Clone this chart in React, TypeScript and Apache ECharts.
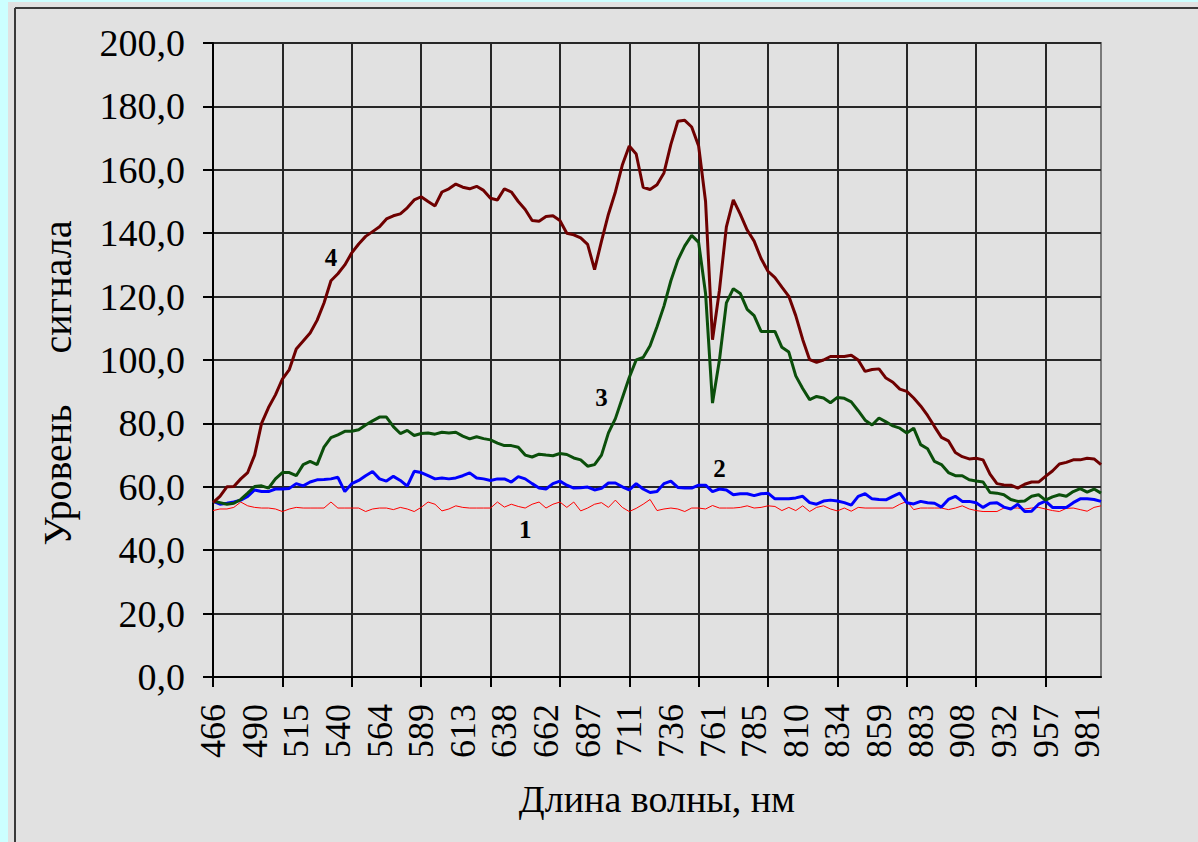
import React, { useEffect, useRef } from "react";
import * as echarts from "echarts";

// Tick labels of the wavelength axis (nm), one every 6 points
const tickLabels = [466, 490, 515, 540, 564, 589, 613, 638, 662, 687, 711, 736, 761, 785, 810, 834, 859, 883, 908, 932, 957, 981];

// Series 1 (red, thin)
const series1 = [
  52.5, 53, 53, 53.5, 55.2, 54, 53.5, 53.3, 53.3, 53, 52.2, 53, 53.5, 53.3, 53.3, 53.3, 53.3, 55.2, 53.3, 53.3,
  53.3, 53.3, 52.2, 53, 53.3, 53.3, 52.8, 53.5, 53, 52.2, 53.5, 55.2, 54.5, 52.4, 53, 54, 53.5, 53.3, 53.3, 53.3,
  53.3, 55.2, 53.6, 54.5, 53.8, 53.3, 54.5, 55.2, 53.3, 54.5, 55.2, 53.5, 55.2, 52.4, 53.3, 54.5, 55, 53.5, 55.8, 53.5,
  52.2, 53.2, 54.5, 56, 52.5, 53, 53.3, 53, 52.2, 53.3, 53.3, 53, 54.1, 53.3, 53.3, 53.3, 53.5, 54, 53.3, 53.5,
  54, 53.8, 52.5, 53.5, 52.5, 54, 52.2, 53.5, 54, 53, 52.4, 53.3, 52.3, 53.5, 53.3, 53.3, 53.3, 53.3, 53.3, 54.5,
  55.4, 52.8, 53.3, 53.3, 53.3, 53.3, 52.8, 53.3, 54, 53, 52.5, 52.2, 52.2, 52.2, 53.3, 53.3, 53.3, 53, 53.3, 53.5,
  53, 52.5, 52.2, 53.2, 53.3, 52.8, 52.3, 53.5, 54,
];

// Series 2 (blue)
const series2 = [
  55.5, 54.5, 54.8, 55.2, 55.8, 57, 59, 58.5, 58.5, 59.3, 59.3, 59.5, 61, 60.3, 61.5, 62.2, 62.3, 62.5, 63, 58.5,
  61, 62, 63.5, 64.8, 62.5, 61.8, 63.3, 62, 60.2, 64.9, 64.5, 63.5, 62.5, 62.8, 62.5, 62.8, 63.5, 64.4, 62.8, 62.5,
  62, 62.5, 62.5, 61.5, 63.2, 62.5, 61, 59.6, 59.3, 61, 61.8, 60.5, 59.6, 59.7, 59.9, 59, 59.5, 61.2, 61.2, 60,
  59, 61, 59.3, 58.2, 58.5, 61, 61.8, 59.8, 59.6, 59.6, 60.5, 60.5, 58.5, 59.3, 59, 57.5, 57.8, 57.8, 57.2, 57.8,
  58, 56.2, 56.2, 56.2, 56.5, 57, 55, 54.5, 55.5, 55.8, 55.5, 55, 54.2, 57, 57.8, 56.2, 56, 55.9, 57, 58,
  55, 54.6, 55.4, 55, 54.8, 53.6, 56, 57, 55.4, 55.4, 55, 53.5, 54.8, 55, 53.6, 53, 54.5, 52.2, 52.3, 54.5,
  55.5, 53.5, 53.5, 53.5, 55, 56.2, 56.2, 56, 55.4,
];

// Series 3 (green)
const series3 = [
  55.5, 55, 54.5, 54.8, 56, 58, 60.1, 60.3, 59.6, 62.5, 64.5, 64.5, 63.5, 67, 68, 67, 72.5, 75.5, 76.4, 77.5,
  77.5, 78, 79.5, 80.8, 82, 82, 79, 76.8, 77.8, 76.2, 76.8, 77, 76.6, 77.2, 77, 77.2, 76, 75.1, 75.8, 75.2,
  74.8, 73.8, 73, 73, 72.5, 70, 69.4, 70.3, 70, 69.8, 70.5, 70.2, 69.1, 68.5, 66.5, 67, 70, 77, 81.5, 88,
  94.5, 100, 100.8, 104.5, 110.5, 117, 125, 131.5, 136, 139.3, 137.1, 121, 86.4, 100, 118, 122.5, 121, 116, 114, 109,
  109, 109, 104, 102.5, 95, 91, 87.5, 88.5, 88, 86.5, 88.2, 87.9, 86.8, 84, 81, 79.5, 81.7, 80.5, 79.2, 78.5,
  77, 78.5, 73.3, 72, 68, 67, 64.5, 63.5, 63.5, 62.2, 61.8, 61.5, 58.2, 58, 57.5, 56, 55.4, 55.5, 57, 57.5,
  55.8, 56.8, 57.5, 57, 58.5, 59.4, 58.3, 59.3, 58,
];

// Series 4 (dark red)
const series4 = [
  55, 57, 60, 60.1, 62.5, 64.5, 70, 80, 85, 89, 94, 97, 103.5, 106, 108.5, 112.5, 118, 125, 127.2, 130,
  133.8, 136.6, 139, 140.5, 142, 144.5, 145.5, 146.1, 148, 150.5, 151.5, 150, 148.6, 153, 154, 155.5, 154.5, 154, 154.8, 153.5,
  151, 150.5, 154, 153, 150, 147.5, 144, 143.8, 145.3, 145.5, 144, 140, 139.5, 138.5, 136.5, 128.5, 137.5, 146, 153, 161.5,
  167.5, 165, 154.5, 153.8, 155.3, 159, 168, 175.3, 175.6, 173.5, 167.5, 150, 106.4, 122, 142, 150.5, 146, 141, 137.5, 132,
  128, 126, 123, 120.1, 114, 106.5, 100.1, 99.3, 100, 101.1, 101.1, 101.1, 101.5, 100, 96.4, 97, 97.2, 94.3, 93, 90.8,
  90.1, 88, 85.5, 82.5, 79, 75.6, 74.5, 70.8, 69.5, 68.8, 69, 68.5, 64, 61, 60.6, 60.5, 59.6, 60.8, 61.5, 61.5,
  63.3, 65, 67.2, 67.7, 68.5, 68.5, 69, 68.8, 67,
];

// Curve numbers: [name, category index, value]
const curveTags: [string, number, number][] = [
  ["1", 45, 46.5],
  ["2", 73, 65.7],
  ["3", 56, 88.1],
  ["4", 17, 132.3],
];

const LABEL_STEP = 6;
const GRID_STEP = 10;
const FONT = "'Liberation Serif', 'Times New Roman', serif";

export default function App() {
  const ref = useRef<HTMLDivElement>(null);

  useEffect(() => {
    if (!ref.current) return;
    const chart = echarts.init(ref.current, undefined, { renderer: "svg" });
    const categories = series1.map((_, i) => String(i));

    const tag = (n: string) => {
      const t = curveTags.find((c) => c[0] === n)!;
      return {
        symbol: "rect",
        symbolSize: 1,
        silent: true,
        itemStyle: { color: "rgba(0,0,0,0)" },
        label: {
          show: true,
          position: "inside",
          formatter: t[0],
          fontFamily: FONT,
          fontWeight: "bold",
          fontSize: 25,
          color: "#000",
        },
        data: [{ coord: [t[1], t[2]] }],
      };
    };

    const mk = (name: string, data: number[], color: string, width: number) => ({
      name,
      type: "line",
      data,
      symbol: "none",
      smooth: false,
      lineStyle: { color, width },
      itemStyle: { color },
      markPoint: tag(name),
      z: 3,
    });

    chart.setOption({
      animation: false,
      backgroundColor: "#e1e1e1",
      textStyle: { fontFamily: FONT },
      grid: {
        left: 213,
        top: 43,
        right: 97,
        bottom: 165,
        show: true,
        borderColor: "#7a7a7a",
        borderWidth: 2,
        backgroundColor: "transparent",
      },
      xAxis: {
        type: "category",
        data: categories,
        boundaryGap: false,
        name: "Длина волны, нм",
        nameLocation: "middle",
        nameGap: 103,
        nameTextStyle: { fontFamily: FONT, fontSize: 38, color: "#000" },
        axisLine: { show: true, lineStyle: { color: "#000", width: 2 } },
        axisTick: { show: true, interval: GRID_STEP - 1, length: 10, lineStyle: { color: "#000", width: 2 } },
        axisLabel: {
          interval: LABEL_STEP - 1,
          rotate: 90,
          margin: 27,
          fontFamily: FONT,
          fontSize: 36,
          color: "#000",
          formatter: (_v: string, i: number) =>
            i % LABEL_STEP === 0 && tickLabels[i / LABEL_STEP] !== undefined ? String(tickLabels[i / LABEL_STEP]) : "",
        },
        splitLine: { show: true, interval: GRID_STEP - 1, lineStyle: { color: "#262626", width: 2 } },
      },
      yAxis: {
        type: "value",
        min: 0,
        max: 200,
        interval: 20,
        axisLine: { show: true, lineStyle: { color: "#000", width: 2 } },
        axisTick: { show: true, length: 10, lineStyle: { color: "#000", width: 2 } },
        axisLabel: {
          margin: 28,
          fontFamily: FONT,
          fontSize: 38,
          color: "#000",
          formatter: (v: number) => v.toFixed(1).replace(".", ","),
        },
        splitLine: { show: true, lineStyle: { color: "#262626", width: 2 } },
      },
      graphic: [
        { type: "rect", shape: { x: 0, y: 0, width: 8, height: 842 }, style: { fill: "#ccffff" }, z: 10 },
        { type: "rect", shape: { x: 0, y: 0, width: 1198, height: 2 }, style: { fill: "#ccffff" }, z: 10 },
        { type: "line", shape: { x1: 15, y1: 8, x2: 1198, y2: 8 }, style: { stroke: "#3a3a3a", lineWidth: 2 }, z: 10 },
        { type: "line", shape: { x1: 15, y1: 8, x2: 15, y2: 842 }, style: { stroke: "#3a3a3a", lineWidth: 2 }, z: 10 },
        {
          type: "text",
          x: 57,
          y: 475,
          rotation: Math.PI / 2,
          style: { text: "Уровень", font: `40px ${FONT}`, fill: "#000", align: "center", verticalAlign: "middle" },
        },
        {
          type: "text",
          x: 57,
          y: 287,
          rotation: Math.PI / 2,
          style: { text: "сигнала", font: `40px ${FONT}`, fill: "#000", align: "center", verticalAlign: "middle" },
        },
      ],
      series: [
        mk("1", series1, "#ff0000", 1),
        mk("2", series2, "#0000ff", 3),
        mk("3", series3, "#0b4f0b", 3),
        mk("4", series4, "#6e0000", 3),
      ],
    });

    return () => chart.dispose();
  }, []);

  return (
    <div
      ref={ref}
      style={{ position: "absolute", left: 0, top: 0, width: 1198, height: 842 }}
    />
  );
}
